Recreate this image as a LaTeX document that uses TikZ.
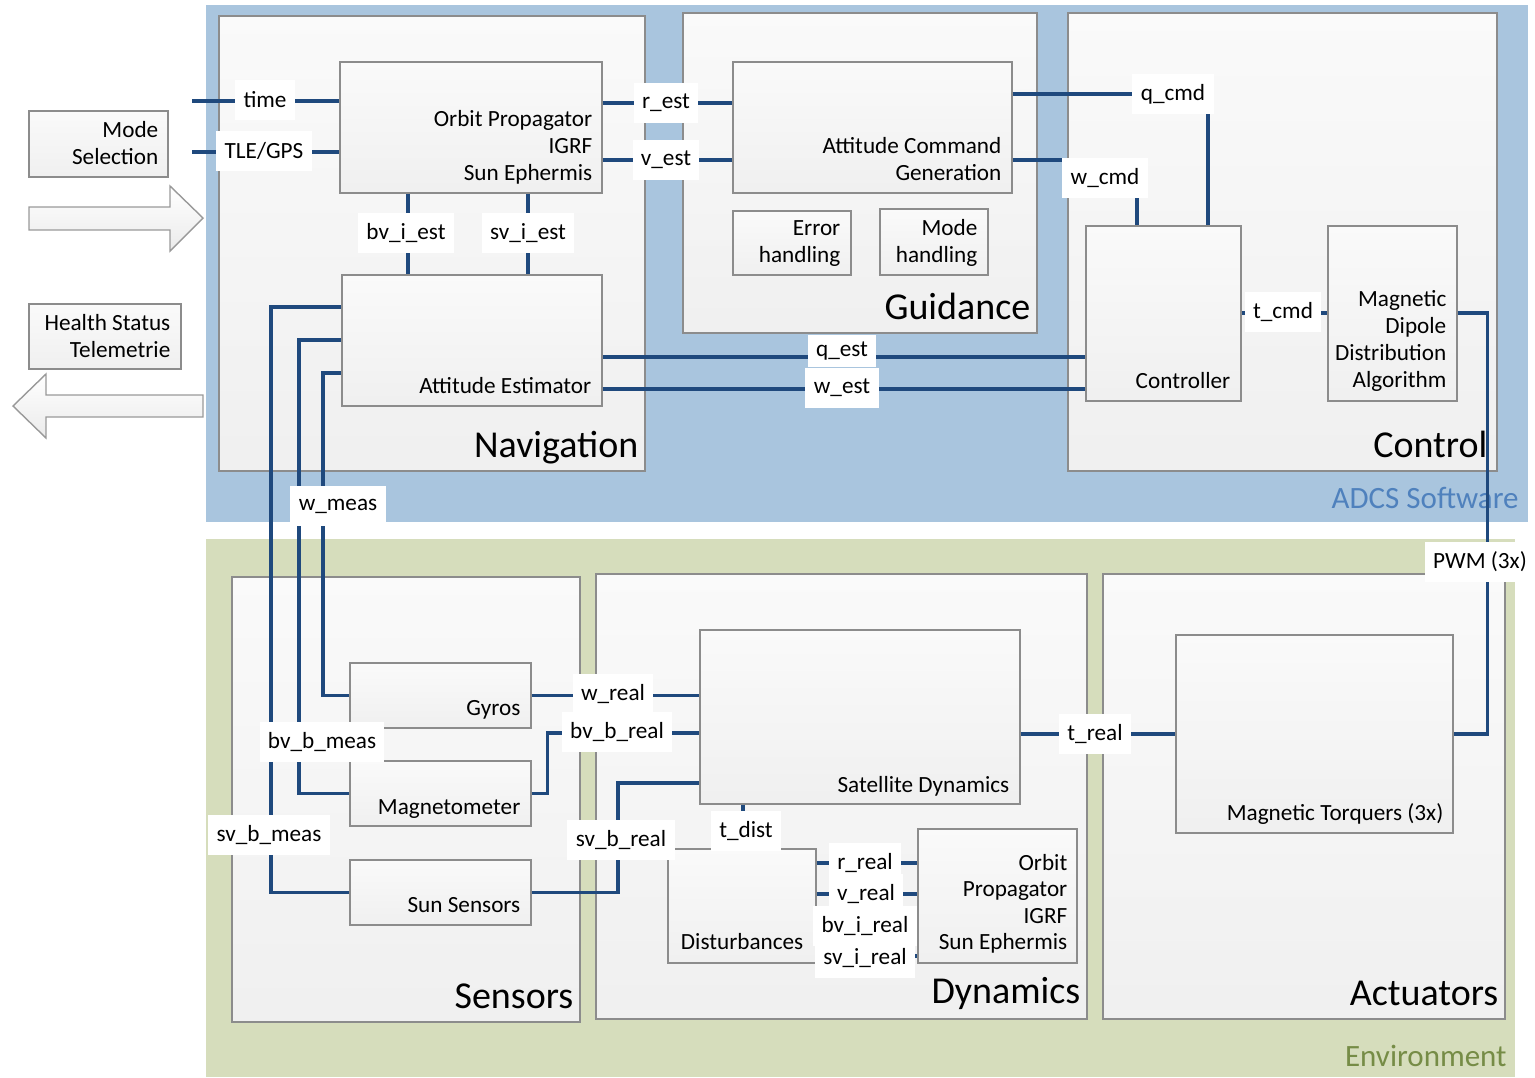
\documentclass[tikz,border=0pt]{standalone}
\usepackage{fontspec}
\setmainfont{Carlito}
\usetikzlibrary{fit,calc}
\definecolor{adcsblue}{RGB}{169,197,222}
\definecolor{envgreen}{RGB}{214,221,188}
\definecolor{sigblue}{RGB}{31,73,125}
\definecolor{adcstext}{RGB}{79,129,189}
\definecolor{envtext}{RGB}{118,140,70}

\begin{document}
\begin{tikzpicture}[x=0.5pt, y=-0.5pt,
    every node/.append style={font=\fontsize{11.6}{13.5}\selectfont},
    area/.style={inner sep=0pt, draw=none},
    panel/.style={draw=black!45, line width=0.7pt, top color=black!2, bottom color=black!6, inner sep=0pt},
    boxtxt/.style={anchor=base east, align=right, inner sep=0pt},
    grptitle/.style={anchor=base east, inner sep=0pt, font=\fontsize{19}{22}\selectfont},
    areatitle/.style={anchor=base east, inner sep=0pt, font=\fontsize{15.5}{18}\selectfont},
    sig/.style={draw=sigblue, line width=1.6pt},
    siglbl/.style={fill=white, inner xsep=4.2pt, inner ysep=0pt, minimum height=20pt},
    bigarrow/.style={draw=black!40, line width=0.7pt, top color=white, bottom color=black!8}]
\useasboundingbox (0,0) rectangle (1535,1077);

% software and environment areas
\node[area, fill=adcsblue, fit={(206,5) (1528,522)}] (adcs) {};
\node[area, fill=envgreen, fit={(206,539) (1515,1077)}] (env) {};
\node[areatitle, text=adcstext] (adcst) at (1519,508) {ADCS Software};
\node[areatitle, text=envtext] (envt) at (1507,1066) {Environment};

% groups
\node[panel, fit={(219,16) (645,471)}] (nav) {};
\node[panel, fit={(683,13) (1037,333)}] (guid) {};
\node[panel, fit={(1068,13) (1497,471)}] (ctrlp) {};
\node[panel, fit={(232,577) (580,1022)}] (sens) {};
\node[panel, fit={(596,574) (1087,1019)}] (dyn) {};
\node[panel, fit={(1103,574) (1505,1019)}] (act) {};
\node[grptitle] (navt) at ($(nav.south east)+(-7,-14)$) {Navigation};
\node[grptitle] (guidt) at ($(guid.south east)+(-7,-14)$) {Guidance};
\node[grptitle] (ctrlpt) at ($(ctrlp.south east)+(-10,-14)$) {Control};
\node[grptitle] (senst) at ($(sens.south east)+(-7,-14)$) {Sensors};
\node[grptitle] (dynt) at ($(dyn.south east)+(-7,-16)$) {Dynamics};
\node[grptitle] (actt) at ($(act.south east)+(-7,-14)$) {Actuators};

% outside the software
\node[panel, fit={(29,111) (168,177)}] (modesel) {};
\node[boxtxt] at ($(modesel.south east)+(-10,-13)$) {Mode\\Selection};
\node[panel, fit={(29,304) (181,369)}] (health) {};
\node[boxtxt] at ($(health.south east)+(-11,-12)$) {Health Status\\Telemetrie};
\draw[bigarrow] (29,207) -- (170,207) -- (170,186) -- (203,218) -- (170,251) -- (170,230) -- (29,230) -- cycle;
\draw[bigarrow] (203,395) -- (46,395) -- (46,374) -- (13,406) -- (46,438) -- (46,417) -- (203,417) -- cycle;

% blocks
\node[panel, fit={(340,62) (602,193)}] (orbnav) {};
\node[boxtxt] at ($(orbnav.south east)+(-10,-13)$) {Orbit Propagator\\IGRF\\Sun Ephermis};
\node[panel, fit={(342,275) (602,406)}] (attest) {};
\node[boxtxt] at ($(attest.south east)+(-11,-13)$) {Attitude Estimator};
\node[panel, fit={(733,62) (1012,193)}] (acg) {};
\node[boxtxt] at ($(acg.south east)+(-11,-13)$) {Attitude Command\\Generation};
\node[panel, fit={(733,211) (851,275)}] (errh) {};
\node[boxtxt] at ($(errh.south east)+(-11,-13)$) {Error\\handling};
\node[panel, fit={(880,209) (988,275)}] (modeh) {};
\node[boxtxt] at ($(modeh.south east)+(-11,-13)$) {Mode\\handling};
\node[panel, fit={(1086,226) (1241,401)}] (ctrl) {};
\node[boxtxt] at ($(ctrl.south east)+(-11,-13)$) {Controller};
\node[panel, fit={(1328,226) (1457,401)}] (mdda) {};
\node[boxtxt] at ($(mdda.south east)+(-11,-14)$) {Magnetic\\Dipole\\Distribution\\Algorithm};

\node[panel, fit={(350,663) (531,728)}] (gyros) {};
\node[boxtxt] at ($(gyros.south east)+(-11,-13)$) {Gyros};
\node[panel, fit={(350,761) (531,826)}] (magnet) {};
\node[boxtxt] at ($(magnet.south east)+(-11,-12)$) {Magnetometer};
\node[panel, fit={(350,860) (531,925)}] (sunsens) {};
\node[boxtxt] at ($(sunsens.south east)+(-11,-13)$) {Sun Sensors};
\node[panel, fit={(700,630) (1020,804)}] (satdyn) {};
\node[boxtxt] at ($(satdyn.south east)+(-11,-12)$) {Satellite Dynamics};
\node[panel, fit={(668,849) (816,963)}] (dist) {};
\node[boxtxt] at ($(dist.south east)+(-13,-14)$) {Disturbances};
\node[panel, fit={(918,829) (1077,963)}] (orbdyn) {};
\node[boxtxt, font=\fontsize{11.6}{13.2}\selectfont] at ($(orbdyn.south east)+(-10,-14)$) {Orbit\\Propagator\\IGRF\\Sun Ephermis};
\node[panel, fit={(1176,635) (1453,833)}] (magtq) {};
\node[boxtxt] at ($(magtq.south east)+(-10,-13)$) {Magnetic Torquers (3x)};

% signals
\coordinate (timesrc) at (192,101);
\coordinate (tlesrc) at (192,152);
\draw[sig] (timesrc) -- (orbnav.west |- timesrc);
\draw[sig] (tlesrc) -- (orbnav.west |- tlesrc);
\draw[sig] (orbnav.east |- 0,103) -- (acg.west |- 0,103);
\draw[sig] (orbnav.east |- 0,160) -- (acg.west |- 0,160);
\draw[sig] (orbnav.south -| 408,0) -- (attest.north -| 408,0);
\draw[sig] (orbnav.south -| 528,0) -- (attest.north -| 528,0);
\draw[sig] (acg.east |- 0,94) -| (ctrl.north -| 1208,0);
\draw[sig] (acg.east |- 0,160) -| (ctrl.north -| 1137,0);
\draw[sig] (attest.east |- 0,357) -- (ctrl.west |- 0,357);
\draw[sig] (attest.east |- 0,389) -- (ctrl.west |- 0,389);
\draw[sig] (ctrl.east |- 0,313) -- (mdda.west |- 0,313);
\draw[sig] (mdda.east |- 0,313) -| ($(magtq.east)+(34,0)$) -- (magtq.east);
\draw[sig] (satdyn.east |- magtq.west) -- (magtq.west);
\draw[sig] (gyros.east) -- (satdyn.west |- gyros.east);
\draw[sig] (magnet.east) -- ++(16,0) |- (satdyn.west |- 0,733);
\draw[sig] (sunsens.east) -| (618,783) -- (satdyn.west |- 0,783);
\draw[sig] (satdyn.south -| 743,0) -- (dist.north -| 743,0);
\draw[sig] (dist.east |- 0,863) -- (orbdyn.west |- 0,863);
\draw[sig] (dist.east |- 0,894) -- (orbdyn.west |- 0,894);
\draw[sig] (dist.east |- 0,926) -- (orbdyn.west |- 0,926);
\draw[sig] (dist.east |- 0,956) -- (orbdyn.west |- 0,956);
\draw[sig] (gyros.west) -| (323,373) -- (attest.west |- 0,373);
\draw[sig] (magnet.west) -| (299,340) -- (attest.west |- 0,340);
\draw[sig] (sunsens.west) -| (271,307) -- (attest.west |- 0,307);

% signal names
\node[siglbl] (timel) at (265,100) {time};
\node[siglbl] (tlegpsl) at (264,151) {TLE/GPS};
\node[siglbl] (restl) at (666,103) {r\_est};
\node[siglbl] (vestl) at (666,160) {v\_est};
\node[siglbl] (bviestl) at (406,233) {bv\_i\_est};
\node[siglbl] (sviestl) at (528,233) {sv\_i\_est};
\node[siglbl] (qcmdl) at (1173,94) {q\_cmd};
\node[siglbl] (wcmdl) at (1105,178) {w\_cmd};
\node[siglbl, minimum height=16pt] (qestl) at (842,351) {q\_est};
\node[siglbl] (westl) at (842,388) {w\_est};
\node[siglbl] (tcmdl) at (1283,312) {t\_cmd};
\node[siglbl] (pwml) at (1480,562) {PWM (3x)};
\node[siglbl] (wmeasl) at (338,506) {w\_meas};
\node[siglbl] (bvbmeasl) at (322,742) {bv\_b\_meas};
\node[siglbl] (svbmeasl) at (269,835) {sv\_b\_meas};
\node[siglbl] (wreall) at (613,694) {w\_real};
\node[siglbl] (bvbreall) at (617,732) {bv\_b\_real};
\node[siglbl] (svbreall) at (621,840) {sv\_b\_real};
\node[siglbl] (tdistl) at (746,831) {t\_dist};
\node[siglbl] (treall) at (1095,734) {t\_real};
\node[siglbl] (rreall) at (865,863) {r\_real};
\node[siglbl] (vreall) at (866,894) {v\_real};
\node[siglbl] (bvireall) at (865,926) {bv\_i\_real};
\node[siglbl] (svireall) at (865,958) {sv\_i\_real};
\end{tikzpicture}
\end{document}
